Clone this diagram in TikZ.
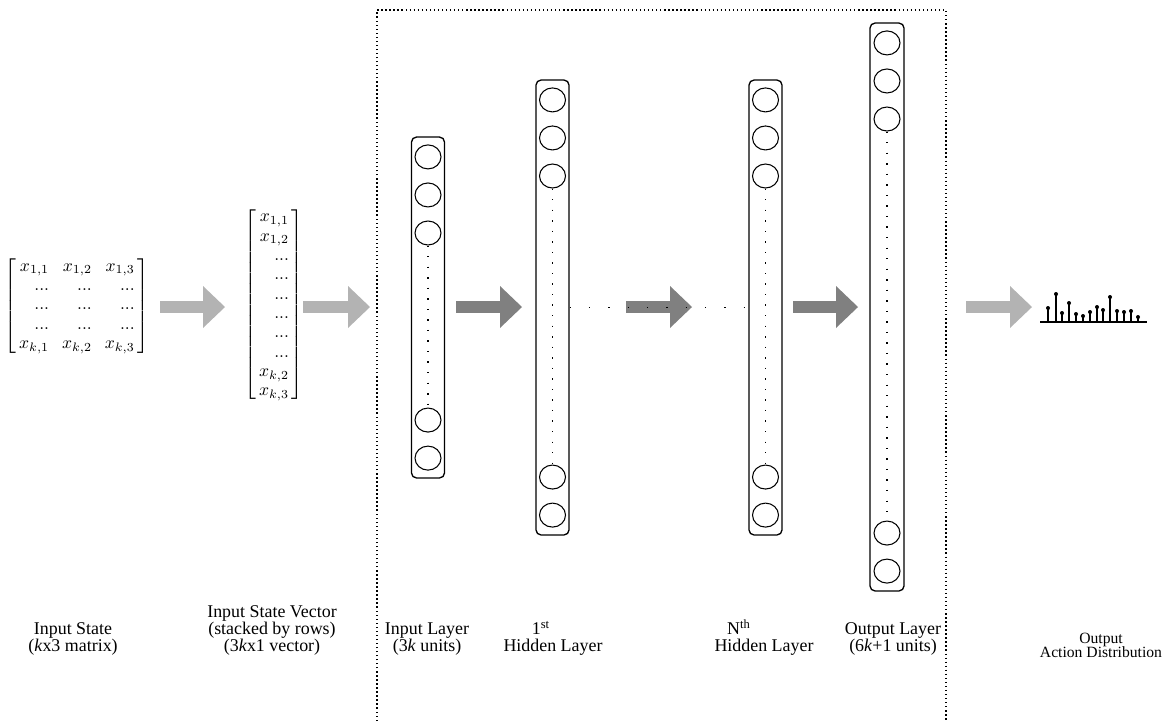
\documentclass[tikz,border=0pt]{standalone}
\usepackage{amsmath}
\usepackage{fontspec}
\setmainfont{Liberation Serif}
\usepackage{tikz}
\usetikzlibrary{arrows.meta, shapes.geometric, positioning}
\definecolor{arrowlight}{RGB}{179,179,179}
\definecolor{arrowdark}{RGB}{128,128,128}
\newcommand{\lblfont}{\fontsize{10.2}{9.9}\selectfont}
\newcommand{\distfont}{\fontsize{8.9}{8.1}\selectfont}
\newcommand{\matfont}{\fontsize{10}{11}\selectfont}

\begin{document}
\begin{tikzpicture}[
  x=0.02cm, y=-0.02cm,
  layer/.style={draw, rounded corners=0.1cm, minimum width=0.66cm,
                line width=0.75pt, inner sep=0pt},
  unit/.style={draw, ellipse, minimum width=0.52cm, minimum height=0.48cm,
               inner sep=0pt, line width=0.6pt},
  fatlight/.style={arrowlight, line width=0.24cm,
                   -{Triangle[length=0.44cm, width=0.84cm, line width=0pt]}},
  fatdark/.style={fatlight, arrowdark},
  vdots/.style={line width=0.8pt, dash pattern=on 0.8pt off 5.2pt},
  hdots/.style={line width=0.8pt, dash pattern=on 0.8pt off 10.2pt},
  frame/.style={line width=0.7pt, dash pattern=on 0.8pt off 1.5pt},
  lbl/.style={font=\lblfont, align=center, anchor=south, inner sep=0pt},
]
\useasboundingbox (0,0) rectangle (1168,721);

% Network frame
\draw[frame] (377,721) -- (377,10) -- (946,10) -- (946,721);

% Input state matrix and stacked vector
\node (mat) at (77,306) {\matfont$\left[\,\begin{array}{@{}r@{\hspace{7.4pt}}r@{\hspace{7.4pt}}r@{}}
  x_{1,1} & x_{1,2} & x_{1,3}\\
  ... & ... & ...\\
  ... & ... & ...\\
  ... & ... & ...\\
  x_{k,1} & x_{k,2} & x_{k,3}
\end{array}\,\right]$};
\node (vec) at (274,305) {\matfont$\left[\,\begin{array}{@{}r@{}}
  x_{1,1}\\ x_{1,2}\\ ...\\ ...\\ ...\\ ...\\ ...\\ ...\\ x_{k,2}\\ x_{k,3}
\end{array}\,\right]$};

% Input layer
\node[layer, minimum height=6.82cm] (inp) at (428,307.5) {};
\node[unit, below=0.16cm of inp.north] (inp1) {};
\node[unit, below=0.26cm of inp1] (inp2) {};
\node[unit, below=0.26cm of inp2] (inp3) {};
\node[unit, above=0.16cm of inp.south] (inp5) {};
\node[unit, above=0.26cm of inp5] (inp4) {};
\draw[vdots] (inp3.south) -- (inp4.north);

% 1st hidden layer
\node[layer, minimum height=9.1cm] (hidA) at (552.5,307.5) {};
\node[unit, below=0.16cm of hidA.north] (hidA1) {};
\node[unit, below=0.26cm of hidA1] (hidA2) {};
\node[unit, below=0.26cm of hidA2] (hidA3) {};
\node[unit, above=0.16cm of hidA.south] (hidA5) {};
\node[unit, above=0.26cm of hidA5] (hidA4) {};
\draw[vdots] (hidA3.south) -- (hidA4.north);

% Nth hidden layer
\node[layer, minimum height=9.1cm] (hidN) at (765.5,307.5) {};
\node[unit, below=0.16cm of hidN.north] (hidN1) {};
\node[unit, below=0.26cm of hidN1] (hidN2) {};
\node[unit, below=0.26cm of hidN2] (hidN3) {};
\node[unit, above=0.16cm of hidN.south] (hidN5) {};
\node[unit, above=0.26cm of hidN5] (hidN4) {};
\draw[vdots] (hidN3.south) -- (hidN4.north);

% Output layer
\node[layer, minimum height=11.36cm, minimum width=0.68cm] (outp) at (887,307) {};
\node[unit, below=0.16cm of outp.north] (outp1) {};
\node[unit, below=0.26cm of outp1] (outp2) {};
\node[unit, below=0.26cm of outp2] (outp3) {};
\node[unit, above=0.16cm of outp.south] (outp5) {};
\node[unit, above=0.26cm of outp5] (outp4) {};
\draw[vdots] (outp3.south) -- (outp4.north);

% Block arrows
\coordinate (s1) at (160,307); \coordinate (e1) at (225,307);
\coordinate (s2) at (303,307); \coordinate (e2) at (370,307);
\coordinate (s3) at (456,307); \coordinate (e3) at (522,307);
\coordinate (s4) at (626,307); \coordinate (e4) at (692,307);
\coordinate (s5) at (793,307); \coordinate (e5) at (858,307);
\coordinate (s6) at (966,307); \coordinate (e6) at (1032,307);
\draw[fatlight] (s1) -- (e1);
\draw[fatlight] (s2) -- (e2);
\draw[fatdark]  (s3) -- (e3);
\draw[fatdark]  (s4) -- (e4);
\draw[fatdark]  (s5) -- (e5);
\draw[fatlight] (s6) -- (e6);

% Skipped hidden layers
\draw[hdots] (hidA.east) -- (hidN.west);

% Output action distribution
\coordinate (distL) at (1040,322);
\coordinate (distR) at (1147,322);
\draw[line width=0.9pt] (distL) -- (distR);
\foreach \x/\y in {1048/308, 1056/294, 1062/313, 1069/303, 1076/314, 1083/316, 1090/312,
                   1097/307, 1103/310, 1110/297, 1117/311, 1124/312, 1131/311, 1138/317} {
  \draw[line width=0.6pt] (\x,322) -- (\x,\y);
  \fill (\x,\y) circle (0.04cm);
}

% Labels
\node[lbl] (lblstate) at (73,656) {Input State\\(\textit{k}x3 matrix)};
\node[lbl] (lblvec) at (272,656) {Input State Vector\\(stacked by rows)\\(3\textit{k}x1 vector)};
\node[lbl] (lblinp) at (427,656) {Input Layer\\(3\textit{k} units)};
\node[lbl] (lblhidA) at (553,656) {1\textsuperscript{st}\hspace*{1.35em}\\Hidden Layer};
\node[lbl] (lblhidN) at (764,656) {N\textsuperscript{th}\hspace*{2.8em}\\Hidden Layer};
\node[lbl] (lblout) at (893,656) {Output Layer\\(6\textit{k}+1 units)};
\node[lbl, font=\distfont] (lbldist) at (1101,658) {Output\\Action Distribution};

\end{tikzpicture}
\end{document}
